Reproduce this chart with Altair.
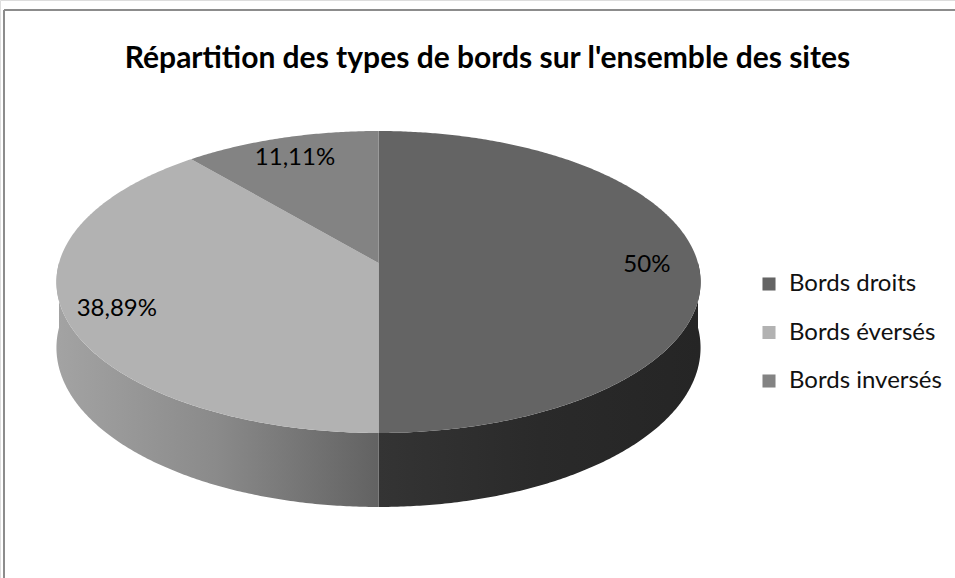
import math
import altair as alt
import pandas as pd

# ---------------- data ----------------
categories = ["Bords droits", "Bords éversés", "Bords inversés"]
shares = [50.0, 38.89, 11.11]
share_labels = ["50%", "38,89%", "11,11%"]
top_colors = ["#646464", "#b2b2b2", "#838383"]
title_text = "Répartition des types de bords sur l'ensemble des sites"

# ---------------- layout (pixels) ----------------
W, H = 955, 578
CX, Y0 = 378.5, 263.0        # projected pie centre
A, B = 319.5, 148.6          # horizontal / vertical radius factors
PERSP = 0.1258               # perspective strength
DEPTH_V = 0.4354             # thickness, in radius units
LABEL_R = 0.84

x_dom = [-CX / A, (W - CX) / A]
y_dom = [(Y0 - H) / B, Y0 / B]


def project(theta_deg, r=1.0, drop=0.0):
    t = math.radians(theta_deg)
    X, Z = r * math.sin(t), r * math.cos(t)
    w = 1.0 + PERSP * Z
    return X / w, (Z - drop) / w


total = sum(shares)
top_rows, side_rows, lab_rows = [], [], []
start = 0.0
for cat, s, lab in zip(categories, shares, share_labels):
    a = start / total * 360.0
    b = (start + s) / total * 360.0
    start += s
    n = max(int((b - a) * 2), 4)
    pts = [(0.0, 0.0)] + [project(a + (b - a) * i / n) for i in range(n + 1)]
    for k, (u, v) in enumerate(pts):
        top_rows.append({"cat": cat, "k": k, "u": u, "v": v})
    lo, hi = max(a, 90.0), min(b, 270.0)
    if hi > lo:
        m = max(int((hi - lo) * 2), 4)
        angs = [lo + (hi - lo) * i / m for i in range(m + 1)]
        upper = [project(t) for t in angs]
        lower = [project(t, drop=DEPTH_V) for t in reversed(angs)]
        for k, (u, v) in enumerate(upper + lower):
            side_rows.append({"cat": cat, "k": k, "u": u, "v": v})
    lu, lv = project((a + b) / 2, r=LABEL_R)
    lab_rows.append({"cat": cat, "label": lab, "u": lu, "v": lv})

top_df = pd.DataFrame(top_rows)
side_df = pd.DataFrame(side_rows)
lab_df = pd.DataFrame(lab_rows)

xs = alt.Scale(domain=x_dom, nice=False, zero=False)
ys = alt.Scale(domain=y_dom, nice=False, zero=False)
X = alt.X("u:Q", scale=xs, axis=None)
Y = alt.Y("v:Q", scale=ys, axis=None)

side_grad = {
    "Bords droits": alt.Gradient(gradient="linear", x1=0, y1=0, x2=1, y2=0,
                                 stops=[alt.GradientStop(color="#343434", offset=0),
                                        alt.GradientStop(color="#2a2a2a", offset=0.5),
                                        alt.GradientStop(color="#252525", offset=1)]),
    "Bords éversés": alt.Gradient(gradient="linear", x1=0, y1=0, x2=1, y2=0,
                                  stops=[alt.GradientStop(color="#a3a3a3", offset=0),
                                         alt.GradientStop(color="#8a8a8a", offset=0.5),
                                         alt.GradientStop(color="#626262", offset=1)]),
}

layers = []
for cat in categories:
    if cat in side_grad and (side_df["cat"] == cat).any():
        layers.append(
            alt.Chart(side_df[side_df["cat"] == cat])
            .mark_line(filled=True, fill=side_grad[cat], strokeWidth=0)
            .encode(x=X, y=Y, order="k:Q")
        )

color_scale = alt.Scale(domain=categories, range=top_colors)
tops = alt.Chart(top_df).mark_line(filled=True).encode(
    x=X, y=Y, order="k:Q",
    color=alt.Color("cat:N", scale=color_scale, sort=categories,
                    legend=alt.Legend(title=None, orient="none", legendX=757, legendY=272,
                                      symbolType="square", symbolSize=170,
                                      symbolStrokeWidth=0,
                                      labelFont="Lato", labelFontSize=24,
                                      labelColor="#111111", rowPadding=24.5,
                                      labelOffset=8)),
)
layers.append(tops)

labels = alt.Chart(lab_df).mark_text(font="Lato", fontSize=24, color="#000000", dy=2).encode(
    x=X, y=Y, text="label:N"
)
layers.append(labels)

frame_left = alt.Chart(pd.DataFrame({"d": [0]})).mark_rule(color="#8c8c8c", strokeWidth=2).encode(
    x=alt.value(4), y=alt.value(10), y2=alt.value(H))
frame_top = alt.Chart(pd.DataFrame({"d": [0]})).mark_rule(color="#8c8c8c", strokeWidth=2).encode(
    x=alt.value(4), x2=alt.value(W), y=alt.value(10))
layers += [frame_left, frame_top]

chart = alt.layer(*layers).properties(
    width=W, height=H,
    padding=0,
    autosize=alt.AutoSizeParams(type="none"),
    title=alt.TitleParams(title_text, font="Lato", fontSize=30, fontWeight="bold",
                          color="#000000", anchor="middle", frame="group",
                          offset=-74, dx=10),
).configure_view(stroke=None).configure(background="white")

chart.save("out.html", embed_options={"renderer": "svg", "actions": False})
